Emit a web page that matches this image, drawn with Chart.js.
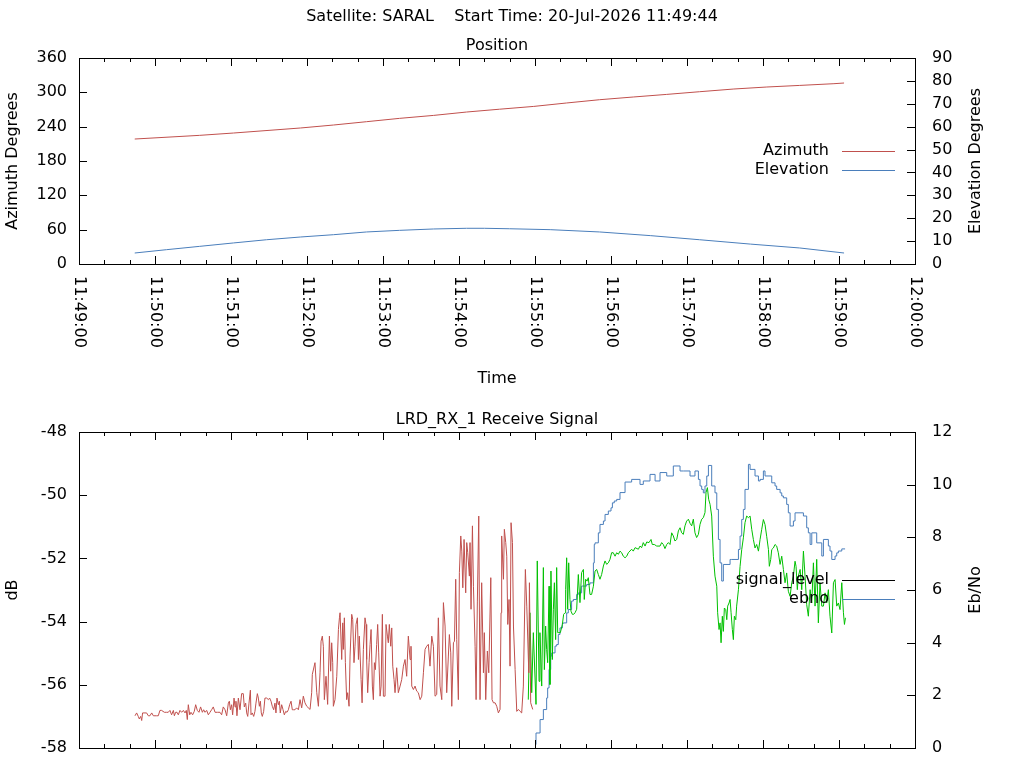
<!DOCTYPE html>
<html>
<head>
<meta charset="utf-8">
<script src="https://cdn.jsdelivr.net/npm/chart.js@4.4.1/dist/chart.umd.min.js"></script>
<style>
html,body{margin:0;padding:0;background:#fff;}
#wrap{position:relative;width:1024px;height:768px;overflow:hidden;background:#fff;}
canvas{position:absolute;left:0;}
#c1{top:0;}
#c2{top:400px;}
</style>
</head>
<body>
<div id="wrap">
<canvas id="c1" width="1024" height="400"></canvas>
<canvas id="c2" width="1024" height="380"></canvas>
</div>
<script>
// ---------------- DATA ----------------
const satellite = 'SARAL';
const startTime = '20-Jul-2026 11:49:44';
const positionTitle = 'Position';
const signalTitle = 'LRD_RX_1 Receive Signal';
const xAxisStart = '11:49:00';   // all times below are seconds after this
const xAxisEnd = '12:00:00';

// Position panel
const posSec      = [44, 95, 122, 175, 201, 227, 253, 280, 306, 332, 359, 385, 411, 438, 464, 490, 517, 543, 569, 596, 604];
const azimuthDeg  = [218.4, 224.8, 228.9, 237.7, 242.9, 248.7, 254.5, 259.7, 265.6, 270.5, 275.4, 281.4, 287.1, 291.9, 296.4, 301.1, 305.8, 309.3, 312.1, 315.1, 316.3];
const elevSec     = [44, 69, 95, 122, 148, 175, 201, 227, 253, 280, 306, 320, 340, 372, 411, 451, 490, 530, 569, 604];
const elevationDeg= [4.8, 6.25, 7.7, 9.2, 10.6, 11.8, 12.8, 14.0, 14.7, 15.3, 15.6, 15.6, 15.4, 15.0, 14.0, 12.4, 10.6, 8.7, 7.0, 4.8];

// Receive signal panel: signal level (dB), unlocked part (red)
const sigRedSec = [44.2,45.5,46.8,47.6,48.7,49.5,50.2,52.1,53.4,54.7,56.0,57.4,58.7,61.3,62.6,63.9,65.2,67.4,69.2,70.5,
71.8,73.1,74.5,75.3,76.3,77.4,78.4,79.7,81.0,82.4,83.7,84.7,85.5,86.3,87.4,88.4,89.7,91.0,92.1,93.4,
94.7,96.0,97.4,98.4,99.5,100.8,102.1,103.4,104.7,106.0,107.4,109.5,111.3,112.6,113.9,115.3,116.6,117.9,118.7,119.5,
120.5,121.3,122.4,123.2,123.9,124.7,125.8,127.1,128.4,129.7,130.5,131.6,132.4,133.2,134.2,135.3,135.8,136.8,137.9,138.9,
139.7,140.8,141.6,142.4,143.2,143.9,144.7,145.8,146.8,148.2,149.5,150.5,151.6,152.6,153.7,154.7,155.5,156.3,157.4,158.2,
158.9,160.0,161.1,162.1,163.2,164.2,165.3,166.3,167.4,168.4,169.5,170.5,171.8,173.2,
174.5,175.8,177.1,178.4,179.8,182.4,183.7,184.2,186.3,187.7,189.0,190.3,191.1,192.1,192.9,193.7,195.0,196.3,197.7,198.7,
199.5,200.3,200.8,202.1,203.5,204.8,205.6,206.1,207.4,208.2,208.7,209.5,210.3,211.3,212.1,213.2,214.0,215.3,216.1,217.1,
217.9,218.7,219.8,220.6,221.3,222.7,223.5,224.5,225.8,226.6,227.1,227.9,229.0,229.8,230.6,231.6,232.4,233.2,234.0,235.0,
235.8,236.6,237.7,238.5,239.5,240.3,241.6,242.4,243.5,244.2,245.0,246.1,246.9,247.7,248.7,249.5,250.8,252.1,253.5,254.8,
256.1,257.4,258.7,260.0,261.4,262.1,262.7,264.0,265.3,266.6,267.9,269.3,270.6,271.9,273.2,274.5,275.8,277.1,278.5,279.8,
281.1,282.4,283.7,285.0,286.4,287.7,289.0,290.3,291.6,292.4,293.5,294.3,295.6,296.4,297.4,298.2,299.5,300.3,301.4,302.2,
303.0,304.0,305.3,306.1,306.9,308.2,308.7,309.5,310.6,311.4,312.7,313.5,314.5,315.6,316.6,317.9,319.3,320.0,321.1,322.4,
323.5,325.1,326.1,327.2,328.5,329.8,331.1,332.4,333.2,333.7,335.1,335.8,336.9,337.7,338.5,339.5,340.3,341.1,342.2,343.0,
344.3,345.6,346.9,348.2,349.5,350.8,352.4,353.5,355.1,355.6,356.6,358.2];
const sigRedDb = [-56.98,-56.89,-57.00,-57.08,-57.00,-57.13,-56.89,-56.89,-56.89,-56.98,-56.98,-56.89,-56.98,-56.98,-56.98,-56.81,-56.81,-56.87,-56.87,-56.87,
-56.81,-56.95,-56.81,-56.98,-56.87,-56.87,-56.95,-56.81,-56.87,-56.81,-56.89,-56.81,-57.10,-56.63,-56.95,-56.87,-56.95,-56.84,-56.63,-56.81,
-56.87,-56.70,-56.87,-56.79,-56.87,-56.81,-56.95,-56.87,-56.79,-56.70,-56.87,-56.87,-56.87,-56.95,-56.70,-56.79,-56.98,-56.58,-56.52,-56.79,
-56.63,-56.95,-56.42,-56.70,-56.52,-56.98,-56.42,-56.79,-56.28,-56.28,-56.70,-56.58,-56.89,-57.00,-56.58,-56.17,-56.95,-56.89,-57.00,-56.84,
-56.58,-56.28,-56.42,-56.68,-56.52,-56.89,-57.00,-56.84,-56.42,-56.42,-56.47,-56.42,-56.52,-56.68,-56.79,-56.58,-56.89,-56.42,-56.63,-56.52,
-56.89,-56.63,-56.79,-56.95,-56.84,-56.87,-56.79,-56.63,-56.52,-56.79,-56.79,-56.79,-56.73,-56.79,
-56.47,-56.73,-56.36,-56.57,-56.68,-56.78,-56.25,-55.67,-55.30,-56.25,-56.68,-55.62,-54.62,-54.46,-54.78,-56.47,-55.73,-56.62,-54.46,-55.57,
-54.67,-55.30,-56.68,-56.47,-55.73,-54.25,-53.88,-53.72,-55.20,-54.04,-54.88,-53.88,-55.30,-56.47,-56.25,-56.68,-55.09,-53.77,-53.93,-55.30,
-54.78,-54.09,-53.88,-55.20,-54.46,-55.83,-56.57,-54.88,-53.88,-54.09,-55.20,-56.25,-55.30,-54.72,-54.25,-56.04,-56.47,-55.30,-55.52,-54.72,
-54.09,-54.99,-56.36,-56.04,-53.77,-56.36,-56.36,-54.09,-54.46,-54.67,-54.09,-54.78,-54.20,-55.41,-55.83,-56.25,-55.46,-56.25,-56.04,-55.83,
-55.41,-55.20,-55.73,-54.46,-55.20,-54.78,-56.04,-56.15,-56.04,-56.20,-56.25,-56.47,-56.36,-55.62,-54.88,-54.78,-54.72,-55.41,-54.46,-54.78,
-56.36,-56.31,-53.88,-56.04,-56.47,-53.40,-54.14,-56.25,-55.09,-54.41,-54.99,-56.68,-54.67,-54.62,-52.66,-54.56,-56.47,-52.45,-51.29,-51.77,
-52.93,-51.40,-53.09,-51.50,-51.82,-52.56,-51.50,-53.61,-50.97,-52.88,-54.78,-56.47,-53.35,-50.66,-56.47,-52.77,-55.62,-54.35,-56.47,-54.93,
-55.62,-52.61,-56.47,-56.57,-56.57,-56.68,-56.89,-56.78,-53.72,-51.29,-52.66,-51.08,-51.50,-51.93,-54.09,-53.30,-55.41,-50.87,-51.50,-54.14,
-55.52,-56.84,-56.78,-56.84,-56.89,-56.04,-52.35,-53.51,-55.62,-52.77,-56.57,-56.78];

// signal level (dB), locked part (green)
const sigGreenSec = [354.7,356.0,357.4,358.7,360.8,361.8,363.2,363.9,365.3,366.6,367.4,368.4,369.2,370.0,371.1,371.8,372.6,373.7,374.5,375.3,
376.3,377.1,377.9,378.9,380.0,381.6,382.6,383.7,384.2,385.0,385.8,386.6,387.6,388.4,389.5,390.5,391.6,392.9,394.2,395.5,
396.8,398.2,398.9,400.0,401.1,402.1,403.4,404.7,406.1,407.4,408.7,410.0,411.3,412.6,414.0,415.3,416.6,417.9,419.2,420.5,
421.8,423.2,424.5,425.8,427.1,428.4,429.7,431.1,432.4,433.7,436.3,437.6,439.0,441.6,442.9,444.2,445.5,446.9,448.2,450.0,
451.6,452.6,454.2,456.1,458.7,460.0,461.3,462.6,464.0,465.3,466.6,467.9,469.2,470.5,471.9,473.2,474.5,475.8,477.1,478.4,
479.7,481.1,482.4,483.7,485.0,486.3,487.6,489.0,490.3,491.6,492.9,494.2,
495.0,496.1,497.1,498.2,499.5,500.8,502.1,503.5,504.2,505.3,506.1,506.9,507.9,508.7,509.5,510.6,511.4,512.1,513.2,514.0,
514.8,515.8,516.6,517.4,518.5,519.2,520.6,521.9,523.2,524.5,525.8,527.1,528.5,529.8,531.1,532.4,533.7,535.0,536.4,537.7,
539.0,540.3,541.6,542.9,544.3,545.0,546.1,546.9,548.2,549.5,550.8,552.1,553.5,554.8,556.1,557.4,558.7,560.0,561.4,562.7,
564.0,565.3,566.1,567.1,567.9,569.3,570.6,571.9,573.2,574.5,575.8,577.2,578.5,579.8,581.1,582.4,583.7,585.0,586.4,587.7,
589.0,590.3,591.6,592.9,594.3,595.6,596.9,598.2,599.5,600.8,602.2,603.5,604.3,605.1];
const sigGreenDb = [-56.47,-53.72,-56.25,-54.35,-56.62,-52.08,-55.89,-54.35,-56.04,-52.29,-55.52,-54.14,-54.88,-55.30,-52.88,-55.99,-52.40,-55.20,-53.61,-52.77,
-54.57,-52.29,-54.35,-54.35,-54.35,-54.09,-53.77,-53.72,-52.98,-51.98,-53.61,-52.14,-53.30,-53.67,-53.77,-53.77,-53.72,-53.61,-52.51,-53.40,
-52.45,-52.35,-53.30,-52.66,-52.72,-52.61,-53.14,-53.14,-52.88,-52.40,-52.35,-52.51,-52.66,-52.51,-52.24,-52.08,-52.19,-52.14,-52.03,-51.82,
-51.82,-51.93,-51.82,-51.87,-51.77,-51.82,-51.93,-51.98,-51.93,-51.82,-51.71,-51.77,-51.66,-51.71,-51.61,-51.66,-51.50,-51.61,-51.48,-51.50,
-51.40,-51.56,-51.56,-51.61,-51.61,-51.50,-51.56,-51.69,-51.56,-51.50,-51.56,-51.19,-51.29,-51.45,-51.40,-51.13,-51.03,-51.19,-51.24,-50.97,
-50.82,-50.76,-50.89,-50.97,-50.76,-51.19,-51.34,-51.24,-50.92,-50.76,-50.71,-50.55,
-49.92,-49.76,-50.13,-50.29,-50.66,-51.93,-52.56,-52.88,-53.72,-54.25,-54.04,-54.67,-53.83,-54.31,-53.57,-53.62,-53.94,-53.51,-53.41,-53.30,
-53.72,-54.25,-54.57,-53.83,-53.94,-53.51,-52.99,-52.25,-51.72,-51.35,-50.87,-50.66,-50.71,-50.66,-51.08,-51.40,-51.67,-51.56,-51.77,-51.40,
-51.08,-50.77,-50.93,-51.30,-51.72,-52.25,-52.03,-51.72,-51.67,-51.56,-51.61,-51.82,-52.19,-51.93,-52.35,-52.77,-52.46,-53.04,-53.20,-52.77,
-52.56,-52.09,-52.25,-52.99,-52.56,-52.35,-52.99,-51.77,-52.56,-53.46,-53.83,-52.99,-53.41,-52.14,-53.51,-52.03,-54.04,-52.77,-53.51,-53.51,
-53.09,-53.41,-52.99,-53.83,-54.36,-52.77,-52.67,-53.51,-53.41,-53.62,-52.77,-53.72,-54.09,-53.88];

// Eb/No
const ebnoSec = [360.8,364.0,366.6,369.2,370.0,371.1,372.4,373.2,375.8,377.1,378.4,379.7,381.6,382.4,385.0,386.3,388.9,390.3,392.9,394.2,
396.8,398.2,400.8,403.4,406.1,406.8,407.4,410.0,411.3,414.0,415.3,417.9,420.0,421.1,422.6,424.5,427.1,431.1,436.3,442.9,
445.5,450.8,454.8,458.7,464.0,469.2,474.5,477.1,482.4,486.3,489.0,490.3,491.6,492.9,494.2,495.6,496.9,499.5,502.1,503.5,
504.8,506.1,507.4,508.7,514.0,515.3,520.6,521.9,523.2,524.5,525.8,528.5,529.8,533.7,536.4,537.7,540.3,541.6,546.9,549.5,
550.8,553.5,554.8,556.1,558.7,560.0,561.4,564.0,565.3,571.9,574.5,575.8,577.2,578.5,582.4,586.4,587.7,591.6,592.9,594.3,
596.9,598.2,599.5,602.2,604.8];
const ebnoVal = [0.13,0.57,1.08,1.46,1.90,2.28,2.98,3.49,3.61,3.87,3.93,4.31,4.56,4.73,4.75,5.13,5.26,5.58,5.64,5.83,
5.89,6.15,6.15,6.21,6.27,7.03,7.73,7.79,8.17,8.49,8.62,8.87,9.00,9.12,9.31,9.38,9.44,9.70,10.10,10.20,
10.01,10.14,10.39,10.14,10.46,10.33,10.71,10.52,10.52,10.33,10.52,10.20,9.95,9.82,9.69,9.95,10.33,10.73,9.95,9.69,
9.06,7.92,7.03,6.34,6.97,7.16,7.16,7.54,8.05,8.68,9.06,9.82,10.77,10.58,10.33,10.14,10.20,10.52,10.33,10.07,
9.95,9.82,9.69,9.57,9.50,9.25,8.93,8.43,8.62,8.93,8.81,8.36,8.17,7.73,8.17,7.79,7.29,7.92,7.67,7.48,
7.16,7.29,7.41,7.48,7.56];

// ---------------- RENDERING ----------------
const RED = '#c0504d', BLUE = '#4a7ebb', GREEN = '#00c000';
const FONT_SIZE = 16;
const FONT = FONT_SIZE + 'px "DejaVu Sans", sans-serif';
Chart.defaults.font.family = '"DejaVu Sans", sans-serif';
Chart.defaults.font.size = FONT_SIZE;
Chart.defaults.color = '#000';

function toSec(s){ const p = s.split(':').map(Number); return p[0]*3600 + p[1]*60 + p[2]; }
const base = toSec(xAxisStart);
const span = toSec(xAxisEnd) - base;
function fmt(v){
  const t = base + v;
  const h = Math.floor(t/3600), m = Math.floor((t%3600)/60), s = Math.round(t%60);
  return [h,m,s].map(n => String(n).padStart(2,'0')).join(':');
}
const pts = (xs, ys) => xs.map((x,i) => ({x, y: ys[i]}));

const gnuplotDecor = {
  id: 'gnuplotDecor',
  afterDraw(chart, args, o) {
    const {ctx, chartArea: a, scales} = chart;
    const xs = scales.x;
    ctx.save();
    ctx.strokeStyle = '#000';
    ctx.lineWidth = 1;
    ctx.beginPath();
    for (let v = xs.min; v <= xs.max + 1e-9; v += o.minorStep) {
      const px = Math.round(xs.getPixelForValue(v)) + 0.5;
      const len = (Math.abs(v % o.majorStep) < 1e-9) ? o.majorLen : o.minorLen;
      ctx.moveTo(px, a.bottom); ctx.lineTo(px, a.bottom - len);
      ctx.moveTo(px, a.top); ctx.lineTo(px, a.top + len);
    }
    scales.y.ticks.forEach(t => {
      const py = Math.round(scales.y.getPixelForValue(t.value)) + 0.5;
      ctx.moveTo(a.left, py); ctx.lineTo(a.left + o.majorLen, py);
    });
    scales.y2.ticks.forEach(t => {
      const py = Math.round(scales.y2.getPixelForValue(t.value)) + 0.5;
      ctx.moveTo(a.right, py); ctx.lineTo(a.right - o.majorLen, py);
    });
    ctx.stroke();
    ctx.strokeRect(a.left + 0.5, a.top + 0.5, a.right - a.left, a.bottom - a.top);

    ctx.fillStyle = '#000';
    ctx.font = FONT;
    // rotated x tick labels (reading downwards)
    if (o.xLabels) {
      xs.ticks.forEach(t => {
        const px = xs.getPixelForValue(t.value);
        ctx.save();
        ctx.translate(px, a.bottom + o.xLabelGap);
        ctx.rotate(Math.PI / 2);
        ctx.textAlign = 'left';
        ctx.textBaseline = 'middle';
        ctx.fillText(fmt(t.value), 0, 0);
        ctx.restore();
      });
    }
    // titles and axis labels
    (o.texts || []).forEach(tx => {
      ctx.save();
      ctx.translate(tx.x, tx.y);
      if (tx.rot) ctx.rotate(tx.rot);
      ctx.textAlign = 'center';
      ctx.textBaseline = 'middle';
      ctx.fillText(tx.text, 0, 0);
      ctx.restore();
    });
    // key
    const k = o.key;
    k.items.forEach((it, i) => {
      const y = k.y0 + i * k.dy;
      ctx.textAlign = 'right';
      ctx.textBaseline = 'middle';
      ctx.fillStyle = '#000';
      ctx.fillText(it.text, k.textRight, y);
      ctx.strokeStyle = it.color;
      ctx.beginPath();
      const yy = Math.round(y) + 0.5;
      ctx.moveTo(k.lineX0, yy); ctx.lineTo(k.lineX1, yy);
      ctx.stroke();
    });
    ctx.restore();
  }
};

function yAxis(pos, min, max, step, width, pad) {
  return {
    type: 'linear', position: pos, min, max,
    ticks: { stepSize: step, padding: pad, color: '#000', font: { size: FONT_SIZE } },
    grid: { display: false, drawTicks: false },
    border: { display: false },
    afterFit: s => { s.width = width; }
  };
}
function xAxis(height) {
  return {
    type: 'linear', min: 0, max: span,
    ticks: { stepSize: 60, display: false },
    grid: { display: false, drawTicks: false },
    border: { display: false },
    afterFit: s => { s.height = height; }
  };
}
const lineDs = (label, data, color, axis, extra) => Object.assign({
  label, data, borderColor: color, backgroundColor: color, borderWidth: 1,
  pointRadius: 0, tension: 0, fill: false, yAxisID: axis
}, extra || {});

// Position chart
const posDatasets = [
  lineDs('Azimuth', pts(posSec, azimuthDeg), RED, 'y'),
  lineDs('Elevation', pts(elevSec, elevationDeg), BLUE, 'y2')
];
new Chart(document.getElementById('c1'), {
  type: 'line',
  data: { datasets: posDatasets },
  plugins: [gnuplotDecor],
  options: {
    responsive: false, animation: false, devicePixelRatio: 1, events: [],
    layout: { padding: { top: 58, left: 0, right: 0, bottom: 0 } },
    scales: {
      x: xAxis(136),
      y: yAxis('left', 0, 360, 60, 79, 12),
      y2: yAxis('right', 0, 90, 10, 109, 17)
    },
    plugins: {
      legend: { display: false }, tooltip: { enabled: false },
      gnuplotDecor: {
        minorStep: 20, majorStep: 60, majorLen: 8, minorLen: 4, xLabels: true, xLabelGap: 12,
        texts: [
          { text: 'Satellite: ' + satellite + '    Start Time: ' + startTime, x: 512, y: 17 },
          { text: positionTitle, x: 497, y: 46 },
          { text: 'Time', x: 497, y: 379 },
          { text: 'Azimuth Degrees', x: 13, y: 161, rot: -Math.PI / 2 },
          { text: 'Elevation Degrees', x: 976, y: 161, rot: -Math.PI / 2 }
        ],
        key: { textRight: 829, lineX0: 842, lineX1: 895, y0: 150.5, dy: 19.5,
               items: posDatasets.map(d => ({ text: d.label, color: d.borderColor })) }
      }
    }
  }
});

// Receive signal chart (canvas extends below the window; plot bottom lands at y=748)
const sigDatasets = [
  lineDs('signal_level', pts(sigRedSec, sigRedDb), RED, 'y'),
  lineDs('signal_level (locked)', pts(sigGreenSec, sigGreenDb), GREEN, 'y'),
  lineDs('ebno', pts(ebnoSec, ebnoVal), BLUE, 'y2', { stepped: 'after' })
];
new Chart(document.getElementById('c2'), {
  type: 'line',
  data: { datasets: sigDatasets },
  plugins: [gnuplotDecor],
  options: {
    responsive: false, animation: false, devicePixelRatio: 1, events: [],
    layout: { padding: { top: 32, left: 0, right: 0, bottom: 0 } },
    scales: {
      x: xAxis(32),
      y: yAxis('left', -58, -48, 2, 79, 12),
      y2: yAxis('right', 0, 12, 2, 109, 17)
    },
    plugins: {
      legend: { display: false }, tooltip: { enabled: false },
      gnuplotDecor: {
        minorStep: 20, majorStep: 60, majorLen: 8, minorLen: 4, xLabels: false,
        texts: [
          { text: signalTitle, x: 497, y: 20 },
          { text: 'dB', x: 13, y: 190, rot: -Math.PI / 2 },
          { text: 'Eb/No', x: 976, y: 190, rot: -Math.PI / 2 }
        ],
        key: { textRight: 829, lineX0: 842, lineX1: 895, y0: 179.5, dy: 19.5,
               items: [ { text: sigDatasets[0].label, color: '#000000' },
                        { text: sigDatasets[2].label, color: BLUE } ] }
      }
    }
  }
});
</script>
</body>
</html>
